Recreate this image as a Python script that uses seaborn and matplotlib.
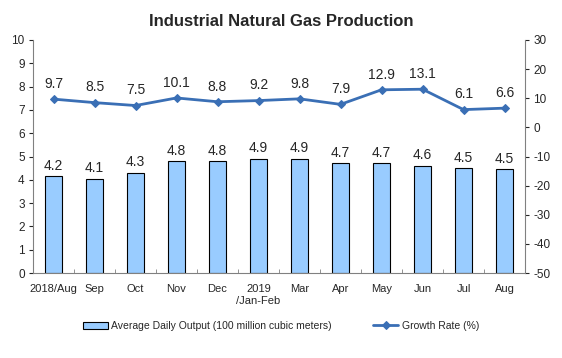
import seaborn as sns
import matplotlib.pyplot as plt
import numpy as np

months = ["2018/Aug", "Sep", "Oct", "Nov", "Dec", "2019\n/Jan-Feb", "Mar",
          "Apr", "May", "Jun", "Jul", "Aug"]
daily_output = [4.15, 4.05, 4.3, 4.8, 4.8, 4.9, 4.9, 4.7, 4.7, 4.6, 4.5, 4.45]
output_labels = ["4.2", "4.1", "4.3", "4.8", "4.8", "4.9", "4.9", "4.7", "4.7", "4.6", "4.5", "4.5"]
growth_rate = [9.7, 8.5, 7.5, 10.1, 8.8, 9.2, 9.8, 7.9, 12.9, 13.1, 6.1, 6.6]

BAR_COLOR = "#99CCFF"
LINE_COLOR = "#3A6FB5"


def create_chart():
    sns.set_style("white")
    plt.rcParams["font.family"] = ["Liberation Sans", "DejaVu Sans"]
    plt.rcParams["axes.unicode_minus"] = False

    fig = plt.figure(figsize=(5.62, 3.58), dpi=100)
    ax = fig.add_axes([33 / 562, 1 - 273 / 358, (525 - 33) / 562, (273 - 40) / 358])

    x = np.arange(len(months))
    sns.barplot(x=x, y=daily_output, color=BAR_COLOR, edgecolor="black",
                linewidth=0.8, width=0.42, saturation=1, ax=ax, native_scale=True,
                label="Average Daily Output (100 million cubic meters)")
    ax.set_xlim(-0.5, len(months) - 0.5)
    ax.set_ylim(0, 10)
    ax.set_yticks(range(0, 11))
    ax.set_xticks(x)
    ax.set_xticklabels(months, fontsize=8)
    ax.set_xticks(x[:-1] + 0.5, minor=True)
    ax.tick_params(axis="y", labelsize=8.5, length=3, direction="out", left=True, pad=3)
    ax.tick_params(axis="x", which="major", length=0, pad=8)
    ax.tick_params(axis="x", which="minor", length=3, direction="in", bottom=True,
                   color="#808080")
    for xi, v, lab in zip(x, daily_output, output_labels):
        ax.text(xi, v + 0.15, lab, ha="center", va="bottom", fontsize=10)

    ax2 = ax.twinx()
    sns.lineplot(x=x, y=growth_rate, color=LINE_COLOR, marker="D", markersize=4,
                 markeredgecolor=LINE_COLOR, linewidth=2, ax=ax2,
                 label="Growth Rate (%)")
    ax2.set_ylim(-50, 30)
    ax2.set_yticks(range(-50, 31, 10))
    ax2.tick_params(axis="y", labelsize=8.5, length=3, direction="out", right=True, pad=3)
    for xi, v in zip(x, growth_rate):
        ax2.text(xi, v + 2.8, f"{v}", ha="center", va="bottom", fontsize=10)

    for a in (ax, ax2):
        a.spines["top"].set_visible(False)
        for s in ("left", "right", "bottom"):
            a.spines[s].set_color("#808080")
            a.spines[s].set_linewidth(0.8)
    ax.spines["right"].set_visible(False)
    ax2.spines["left"].set_visible(False)
    ax2.spines["bottom"].set_visible(False)

    h1, l1 = ax.get_legend_handles_labels()
    h2, l2 = ax2.get_legend_handles_labels()
    if ax.get_legend():
        ax.get_legend().remove()
    if ax2.get_legend():
        ax2.get_legend().remove()
    fig.legend(h1 + h2, l1 + l2, loc="center", bbox_to_anchor=(0.5, 1 - 326 / 358),
               ncol=2, frameon=False, fontsize=7.5, columnspacing=4,
               handlelength=2.4, handletextpad=0.3)

    fig.text(0.5, 1 - 22 / 358, "Industrial Natural Gas Production", ha="center",
             va="center", fontsize=12, fontweight="bold")

    fig.savefig("out.png", dpi=100)
    plt.close(fig)


if __name__ == "__main__":
    create_chart()
